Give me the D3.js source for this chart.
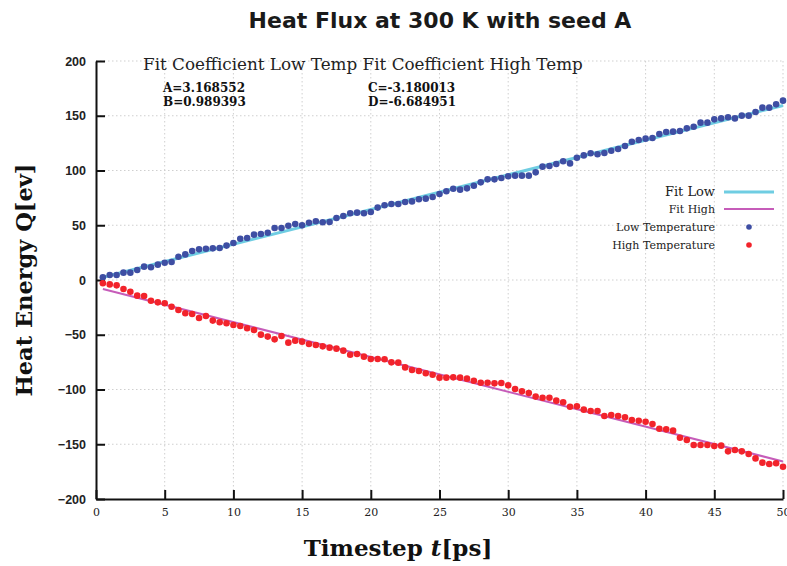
<!DOCTYPE html>
<html>
<head>
<meta charset="utf-8">
<script src="https://cdn.jsdelivr.net/npm/d3@7"></script>
<style>
  body { margin: 0; background: white; }
  .grid line { stroke: #cfcfcf; stroke-width: 1; stroke-dasharray: 1.5,2.5; }
  .axis path, .axis line { stroke: #111; stroke-width: 2; }
  .yaxis text { font-family: "Liberation Sans", Arial, sans-serif; font-weight: bold; font-size: 12.5px; fill: #222; }
  .xaxis text { font-family: "DejaVu Serif", serif; font-size: 11px; fill: #222; }
</style>
</head>
<body>
<div id="container"></div>
<script>
/* CONSTANTS AND GLOBALS */
const width = 787,
  height = 566,
  margin = { top: 61, right: 4, bottom: 67, left: 96 },
  radius = 3.3;

/* DATA */
const time = [0.5, 1, 1.5, 2, 2.5, 3, 3.5, 4, 4.5, 5, 5.5, 6, 6.5, 7, 7.5, 8, 8.5, 9, 9.5, 10,
  10.5, 11, 11.5, 12, 12.5, 13, 13.5, 14, 14.5, 15, 15.5, 16, 16.5, 17, 17.5, 18, 18.5, 19, 19.5, 20,
  20.5, 21, 21.5, 22, 22.5, 23, 23.5, 24, 24.5, 25, 25.5, 26, 26.5, 27, 27.5, 28, 28.5, 29, 29.5, 30,
  30.5, 31, 31.5, 32, 32.5, 33, 33.5, 34, 34.5, 35, 35.5, 36, 36.5, 37, 37.5, 38, 38.5, 39, 39.5, 40,
  40.5, 41, 41.5, 42, 42.5, 43, 43.5, 44, 44.5, 45, 45.5, 46, 46.5, 47, 47.5, 48, 48.5, 49, 49.5, 50];

const lowTemp = [2.4, 4.6, 4.6, 6.7, 6.7, 9.1, 12.2, 11.6, 14.0, 15.8, 16.4, 21.3, 23.4, 26.5, 28.0, 28.6, 28.9, 29.2, 31.4, 33.8,
  37.7, 38.4, 41.4, 42.0, 43.2, 47.5, 47.5, 49.6, 51.1, 49.9, 52.3, 53.6, 52.7, 53.0, 56.6, 58.4, 60.9, 61.5, 60.9, 62.1,
  66.1, 68.2, 69.4, 69.4, 71.2, 71.8, 73.7, 74.3, 75.8, 78.5, 81.0, 83.4, 82.5, 83.7, 86.1, 89.2, 91.9, 91.9, 93.2, 94.7,
  95.3, 95.3, 95.3, 98.3, 103.5, 104.1, 105.9, 108.4, 106.5, 111.7, 113.8, 115.7, 114.8, 116.0, 118.1, 119.6, 122.4, 126.3, 127.9, 129.1,
  129.7, 133.3, 135.2, 135.5, 136.1, 138.5, 140.0, 143.7, 143.7, 146.7, 147.6, 148.6, 147.6, 150.1, 150.1, 153.4, 157.4, 157.4, 160.4, 163.8];

const highTemp = [-3.0, -4.0, -4.9, -8.2, -10.7, -14.3, -14.6, -18.9, -20.4, -21.3, -24.4, -27.4, -30.4, -31.1, -34.7, -32.9, -37.1, -38.6, -39.5, -41.1,
  -42.0, -44.1, -45.7, -49.9, -51.7, -54.2, -51.1, -57.2, -55.4, -56.3, -58.4, -59.4, -60.6, -61.8, -62.7, -64.5, -68.2, -67.6, -70.0, -72.1,
  -72.1, -72.4, -75.2, -75.5, -79.8, -82.2, -83.1, -85.2, -86.5, -89.2, -89.2, -88.9, -89.2, -90.1, -92.0, -93.8, -93.8, -94.4, -94.1, -96.2,
  -99.5, -101.7, -103.2, -106.5, -107.5, -107.5, -110.2, -111.7, -115.7, -115.4, -118.4, -119.6, -119.6, -124.2, -123.3, -124.2, -125.4, -127.9, -128.5, -129.4,
  -131.5, -135.8, -136.4, -137.6, -144.0, -146.1, -150.7, -150.7, -150.7, -151.6, -151.3, -156.5, -155.3, -156.5, -158.9, -162.9, -166.8, -168.0, -167.4, -170.5];

// fitted lines, ends only (from A,B and C,D)
const fitTime = [0.5, 50];
const fitLow = [2.57, 159.42];
const fitHigh = [-8.27, -165.68];

const xTicks = [0, 5, 10, 15, 20, 25, 30, 35, 40, 45, 50];
const yTicks = [-200, -150, -100, -50, 0, 50, 100, 150, 200];

const coefLow = ["A=3.168552", "B=0.989393"];
const coefHigh = ["C=-3.180013", "D=-6.684951"];

const legendItems = [
  { label: "Fit Low", type: "line", color: "#6fcde2", size: 13, w: 3 },
  { label: "Fit High", type: "line", color: "#c65cb9", size: 11, w: 2 },
  { label: "Low Temperature", type: "dot", color: "#3e4ea3", size: 11 },
  { label: "High Temperature", type: "dot", color: "#f2232b", size: 11 }
];

const svg = d3.select("#container")
  .append("svg")
  .attr("width", width)
  .attr("height", height)
  .style("background-color", "white");

/* SCALES */
const xScale = d3.scaleLinear()
  .domain([0, 50])
  .range([margin.left, width - margin.right]);

const yScale = d3.scaleLinear()
  .domain([-200, 200])
  .range([height - margin.bottom, margin.top]);

/* GRID */
svg.append("g")
  .attr("class", "grid")
  .selectAll("line.v")
  .data(xTicks.slice(1))
  .join("line")
  .attr("x1", d => xScale(d))
  .attr("x2", d => xScale(d))
  .attr("y1", yScale(200))
  .attr("y2", yScale(-200));

svg.append("g")
  .attr("class", "grid")
  .selectAll("line.h")
  .data(yTicks.slice(1))
  .join("line")
  .attr("x1", xScale(0))
  .attr("x2", xScale(50))
  .attr("y1", d => yScale(d))
  .attr("y2", d => yScale(d));

/* AXES */
const xAxis = d3.axisBottom(xScale)
  .tickValues(xTicks)
  .tickSizeInner(-9)
  .tickSizeOuter(0)
  .tickPadding(9);

svg.append("g")
  .attr("class", "axis xaxis")
  .attr("transform", `translate(0, ${yScale(-200)})`)
  .call(xAxis);

const yAxis = d3.axisLeft(yScale)
  .tickValues(yTicks)
  .tickSizeInner(-9)
  .tickSizeOuter(0)
  .tickPadding(10);

svg.append("g")
  .attr("class", "axis yaxis")
  .attr("transform", `translate(${xScale(0)}, 0)`)
  .call(yAxis);

/* FIT LINES */
const line = d3.line()
  .x(d => xScale(d[0]))
  .y(d => yScale(d[1]));

svg.append("path")
  .datum(d3.zip(fitTime, fitLow))
  .attr("d", line)
  .attr("fill", "none")
  .attr("stroke", legendItems[0].color)
  .attr("stroke-width", 3);

svg.append("path")
  .datum(d3.zip(fitTime, fitHigh))
  .attr("d", line)
  .attr("fill", "none")
  .attr("stroke", legendItems[1].color)
  .attr("stroke-width", 2);

/* POINTS */
svg.selectAll(".low")
  .data(d3.zip(time, lowTemp))
  .join("circle")
  .attr("class", "low")
  .attr("cx", d => xScale(d[0]))
  .attr("cy", d => yScale(d[1]))
  .attr("r", radius)
  .style("fill", legendItems[2].color);

svg.selectAll(".high")
  .data(d3.zip(time, highTemp))
  .join("circle")
  .attr("class", "high")
  .attr("cx", d => xScale(d[0]))
  .attr("cy", d => yScale(d[1]))
  .attr("r", radius)
  .style("fill", legendItems[3].color);

/* TEXT */
svg.append("text")
  .attr("x", 440)
  .attr("y", 28)
  .attr("text-anchor", "middle")
  .style("font-family", "'DejaVu Sans', sans-serif")
  .style("font-weight", "bold")
  .style("font-size", "22px")
  .style("fill", "#1a1a1a")
  .text("Heat Flux at 300 K with seed A");

svg.append("text")
  .attr("x", 143)
  .attr("y", 70)
  .style("font-family", "'DejaVu Serif', serif")
  .style("font-size", "16.8px")
  .style("fill", "#222")
  .text("Fit Coefficient Low Temp Fit Coefficient High Temp");

svg.selectAll(".coefA")
  .data(coefLow)
  .join("text")
  .attr("x", 163)
  .attr("y", (d, i) => 92 + i * 14)
  .style("font-family", "'DejaVu Serif', serif")
  .style("font-weight", "bold")
  .style("font-size", "12px")
  .style("fill", "#111")
  .text(d => d);

svg.selectAll(".coefC")
  .data(coefHigh)
  .join("text")
  .attr("x", 368)
  .attr("y", (d, i) => 92 + i * 14)
  .style("font-family", "'DejaVu Serif', serif")
  .style("font-weight", "bold")
  .style("font-size", "12px")
  .style("fill", "#111")
  .text(d => d);

// axis titles
svg.append("text")
  .attr("transform", "translate(32, 280) rotate(-90)")
  .attr("text-anchor", "middle")
  .style("font-family", "'DejaVu Serif', serif")
  .style("font-weight", "bold")
  .style("font-size", "22.5px")
  .style("fill", "#111")
  .text("Heat Energy Q[ev]");

const xt = svg.append("text")
  .attr("x", 398)
  .attr("y", 556)
  .attr("text-anchor", "middle")
  .style("font-family", "'DejaVu Serif', serif")
  .style("font-weight", "bold")
  .style("font-size", "23px")
  .style("fill", "#111");
xt.append("tspan").text("Timestep ");
xt.append("tspan").style("font-style", "italic").text("t");
xt.append("tspan").text("[ps]");

/* LEGEND */
const legendY = [192, 209, 227, 245];
const legend = svg.append("g");

legend.selectAll("text")
  .data(legendItems)
  .join("text")
  .attr("x", 715)
  .attr("y", (d, i) => legendY[i] + 4)
  .attr("text-anchor", "end")
  .style("font-family", "'DejaVu Serif', serif")
  .style("font-size", d => d.size + "px")
  .style("fill", "#222")
  .text(d => d.label);

legend.selectAll("line")
  .data(legendItems.filter(d => d.type === "line"))
  .join("line")
  .attr("x1", 724)
  .attr("x2", 774)
  .attr("y1", (d, i) => legendY[i])
  .attr("y2", (d, i) => legendY[i])
  .attr("stroke", d => d.color)
  .attr("stroke-width", d => d.w);

legend.selectAll("circle")
  .data(legendItems.filter(d => d.type === "dot"))
  .join("circle")
  .attr("cx", 749)
  .attr("cy", (d, i) => legendY[i + 2])
  .attr("r", 2.8)
  .style("fill", d => d.color);
</script>
</body>
</html>
